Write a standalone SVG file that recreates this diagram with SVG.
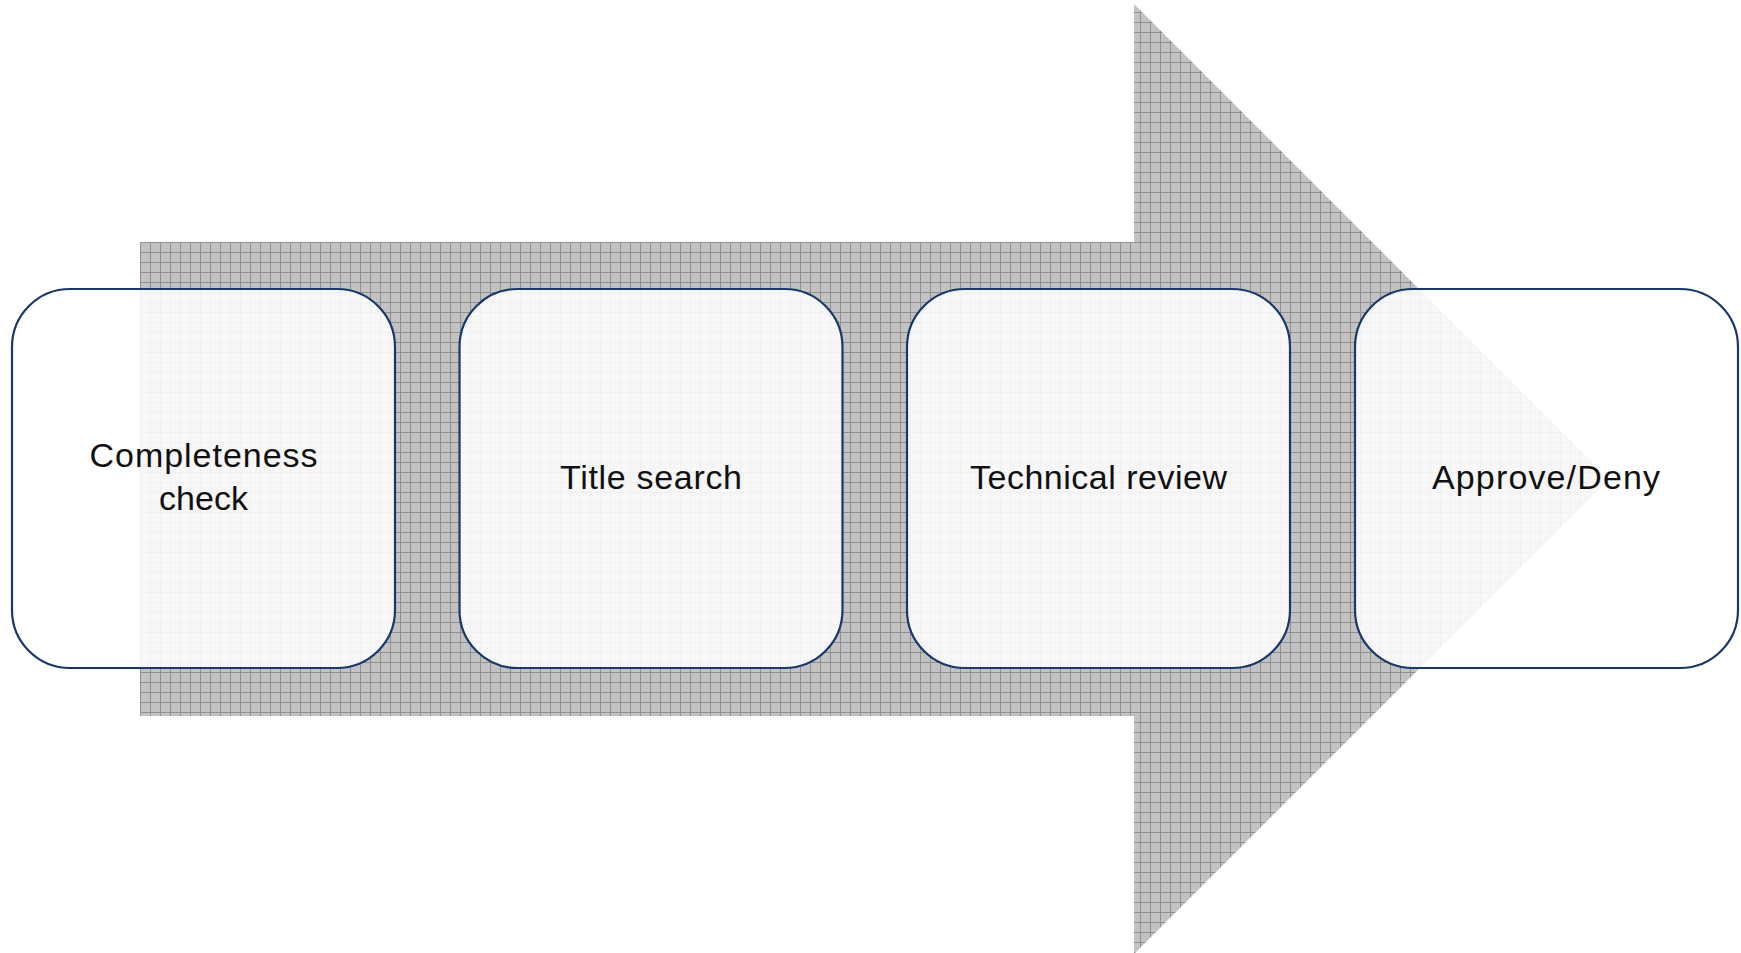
<svg xmlns="http://www.w3.org/2000/svg" width="1741" height="953" viewBox="0 0 1741 953">
  <defs>
    <pattern id="grid" x="0" y="2" width="10" height="10" patternUnits="userSpaceOnUse">
      <rect width="10" height="10" fill="#c3c3c3"/>
      <rect x="3" y="3" width="1" height="1" fill="#b4b4b4"/>
      <rect x="6" y="6" width="1" height="1" fill="#b4b4b4"/>
      <rect x="0" y="0" width="10" height="1" fill="#8f8f8f"/>
      <rect x="0" y="0" width="1" height="10" fill="#8f8f8f"/>
    </pattern>
    <style>
      .box { fill: #ffffff; fill-opacity: 0.87; stroke: #17386a; stroke-width: 2.2; }
      .lbl { font-family: "Liberation Sans", Arial, sans-serif; font-size: 34px; fill: #111111; text-anchor: middle; }
    </style>
  </defs>
  <rect width="1741" height="953" fill="#ffffff"/>
  <g id="arrow">
    <polygon points="140,242 1134,242 1134,4 1609,479 1134,954 1134,716 140,716" fill="url(#grid)"/>
  </g>
  <g id="connectors"></g>
  <g id="node1">
    <rect class="box" x="12" y="289" width="383" height="379" rx="58" ry="58"/>
    <text class="lbl" x="203.5" y="467" textLength="228" lengthAdjust="spacing">Completeness</text>
    <text class="lbl" x="203.5" y="510">check</text>
  </g>
  <g id="node2">
    <rect class="box" x="459.5" y="289" width="383" height="379" rx="58" ry="58"/>
    <text class="lbl" x="651" y="489" textLength="182" lengthAdjust="spacing">Title search</text>
  </g>
  <g id="node3">
    <rect class="box" x="907" y="289" width="383" height="379" rx="58" ry="58"/>
    <text class="lbl" x="1098.5" y="489" textLength="257" lengthAdjust="spacing">Technical review</text>
  </g>
  <g id="node4">
    <rect class="box" x="1355" y="289" width="383" height="379" rx="58" ry="58"/>
    <text class="lbl" x="1546" y="489" textLength="228" lengthAdjust="spacing">Approve/Deny</text>
  </g>
</svg>
